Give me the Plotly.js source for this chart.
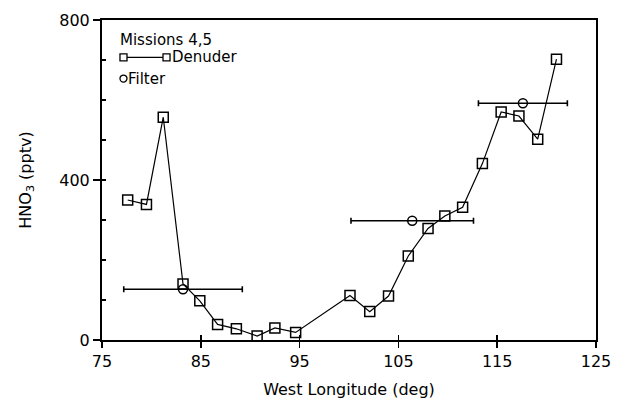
<!DOCTYPE html>
<html>
<head>
<meta charset="utf-8">
<script src="https://cdn.plot.ly/plotly-3.0.1.min.js"></script>
<style>html,body{margin:0;padding:0;background:#fff;}#chart{width:630px;height:402px;}</style>
</head>
<body>
<div id="chart"></div>
<script>
// Denuder measurements (West longitude, HNO3 pptv)
const denuderLon = [77.6, 79.5, 81.2, 83.2, 84.9, 86.7, 88.6, 90.7, 92.5, 94.6, 100.1, 102.1, 104.0, 106.0, 108.0, 109.7, 111.5, 113.5, 115.4, 117.2, 119.1, 121.0];
const denuderHNO3 = [350, 339, 557, 140, 98, 39, 28, 10, 30, 19, 111, 71, 110, 210, 279, 310, 332, 441, 570, 560, 502, 702];
// Filter measurements with longitude span
const filterLon = [83.2, 106.4, 117.6];
const filterHNO3 = [127, 298, 592];
const filterSpan = [6.0, 6.2, 4.5];

const xTicks = [75, 85, 95, 105, 115, 125];
const yTicks = [0, 400, 800];
const yMinorTicks = [0, 100, 200, 300, 400, 500, 600, 700, 800];

const fontFam = '"DejaVu Sans", "Liberation Sans", Arial, sans-serif';

const traces = [
  {
    x: denuderLon, y: denuderHNO3, type: 'scatter', mode: 'lines+markers',
    line: {color: '#000', width: 1.2},
    marker: {symbol: 'square-open', size: 10, color: '#000', line: {width: 1.5}},
    showlegend: false, hoverinfo: 'none'
  },
  {
    x: filterLon, y: filterHNO3, type: 'scatter', mode: 'markers',
    marker: {symbol: 'circle-open', size: 9, color: '#000', line: {width: 1.5}},
    error_x: {type: 'data', array: filterSpan, visible: true, color: '#000', thickness: 1.6, width: 3},
    showlegend: false, hoverinfo: 'none'
  },
  { x: [], y: [], xaxis: 'x2', yaxis: 'y2', type: 'scatter', showlegend: false }
];

const layout = {
  width: 630, height: 402,
  margin: {l: 102, r: 34, t: 20, b: 62},
  paper_bgcolor: '#fff', plot_bgcolor: '#fff',
  font: {family: fontFam, size: 16, color: '#000'},
  xaxis: {
    range: [75, 125], tickvals: xTicks, ticktext: xTicks.map(String),
    ticks: 'outside', ticklen: 6, tickwidth: 1.5, tickcolor: '#000',
    showline: true, linecolor: '#000', linewidth: 2, mirror: true,
    showgrid: false, zeroline: false,
    tickfont: {size: 16},
    title: {text: 'West Longitude (deg)', font: {size: 16}, standoff: 14}
  },
  xaxis2: {
    overlaying: 'x', anchor: 'y', side: 'bottom', range: [75, 125], tickvals: xTicks,
    showticklabels: false, ticks: 'inside', ticklen: 5, tickwidth: 1.5, tickcolor: '#000',
    showline: false, showgrid: false, zeroline: false
  },
  yaxis: {
    range: [0, 800], tickvals: yTicks, ticktext: yTicks.map(String),
    ticks: 'outside', ticklen: 7, tickwidth: 1.5, tickcolor: '#000',
    showline: true, linecolor: '#000', linewidth: 2, mirror: true,
    showgrid: false, zeroline: false,
    tickfont: {size: 16},
    title: {text: 'HNO<sub>3</sub> (pptv)', font: {size: 16}, standoff: 24}
  },
  yaxis2: {
    overlaying: 'y', anchor: 'x', side: 'left', range: [0, 800], tickvals: yMinorTicks,
    showticklabels: false, ticks: 'inside', ticklen: 4, tickwidth: 1.3, tickcolor: '#000',
    showline: false, showgrid: false, zeroline: false
  },
  shapes: [
    {type: 'rect', xref: 'paper', yref: 'paper', x0: 0.0364, x1: 0.0506, y0: 0.872, y1: 0.894, line: {color: '#000', width: 1.3}},
    {type: 'line', xref: 'paper', yref: 'paper', x0: 0.0506, x1: 0.1235, y0: 0.883, y1: 0.883, line: {color: '#000', width: 1.2}},
    {type: 'rect', xref: 'paper', yref: 'paper', x0: 0.1235, x1: 0.1377, y0: 0.872, y1: 0.894, line: {color: '#000', width: 1.3}},
    {type: 'circle', xref: 'paper', yref: 'paper', x0: 0.0364, x1: 0.0506, y0: 0.806, y1: 0.828, line: {color: '#000', width: 1.3}}
  ],
  annotations: [
    {xref: 'paper', yref: 'paper', x: 0.036, y: 0.939, text: 'Missions 4,5', showarrow: false, xanchor: 'left', yanchor: 'middle', xshift: -2, font: {size: 15}},
    {xref: 'paper', yref: 'paper', x: 0.1417, y: 0.883, text: 'Denuder', showarrow: false, xanchor: 'left', yanchor: 'middle', xshift: -2, font: {size: 15}},
    {xref: 'paper', yref: 'paper', x: 0.0526, y: 0.817, text: 'Filter', showarrow: false, xanchor: 'left', yanchor: 'middle', xshift: -2, font: {size: 15}}
  ]
};

Plotly.newPlot('chart', traces, layout, {staticPlot: true, displayModeBar: false});
</script>
</body>
</html>
